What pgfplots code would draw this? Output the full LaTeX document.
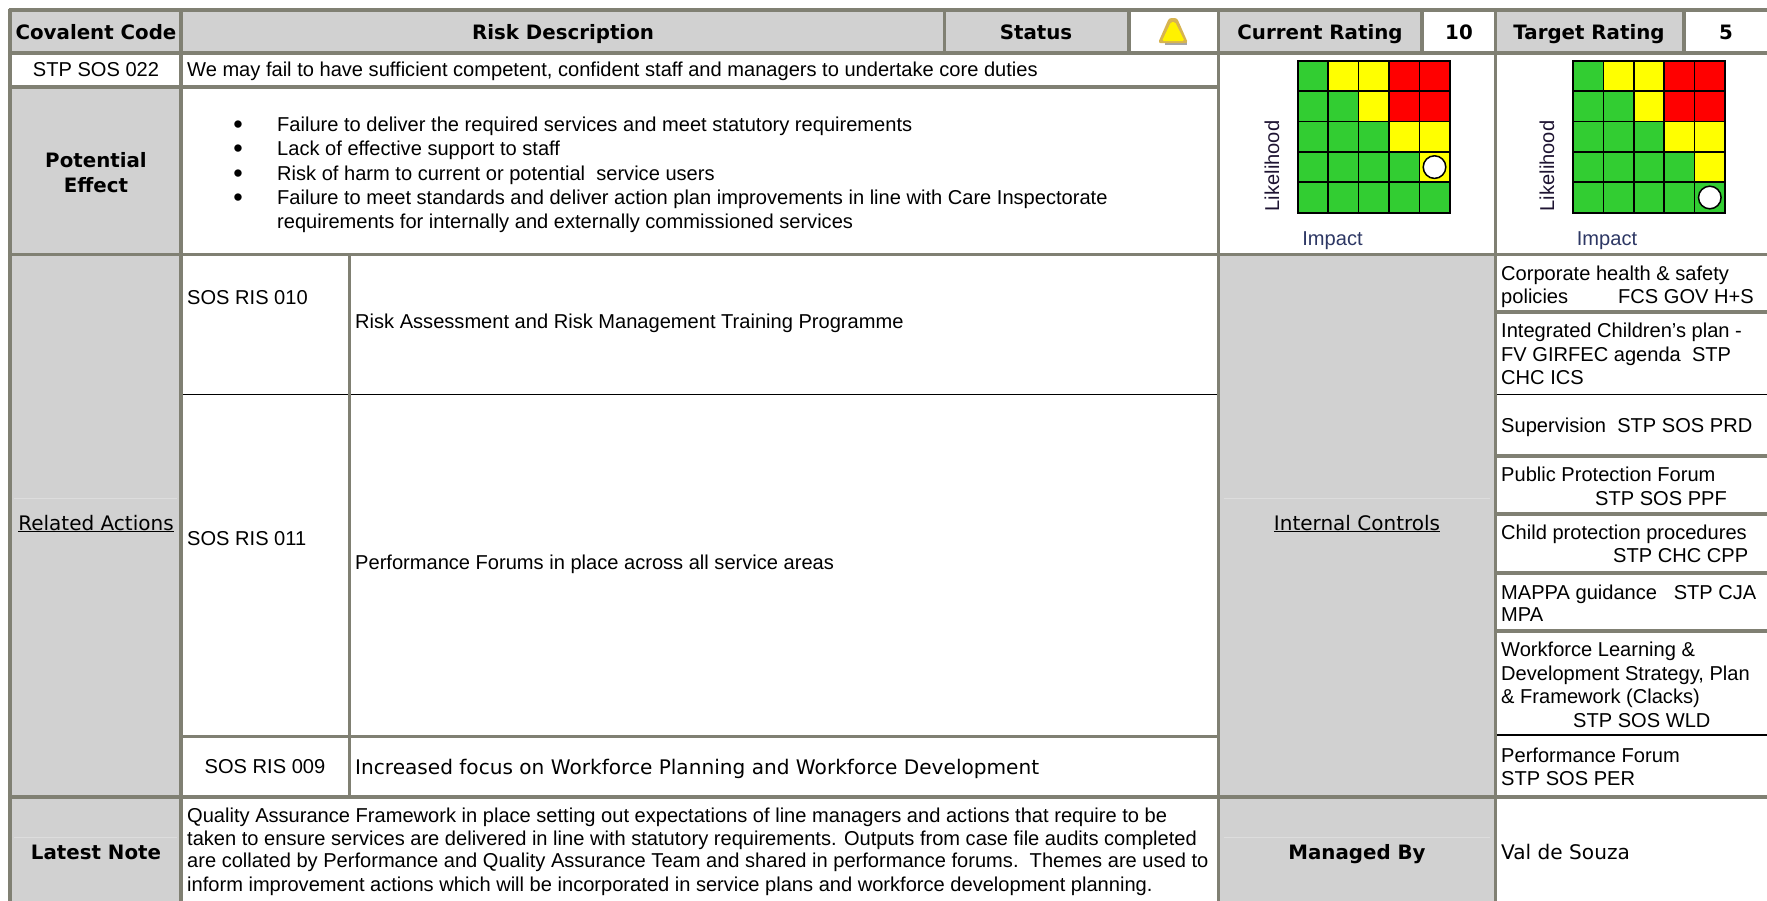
\documentclass[border=0pt]{standalone}
\usepackage{fontspec}
\setmainfont{Liberation Sans}
\newfontfamily\vd{DejaVu Sans}
\usepackage{pgfplots}
\pgfplotsset{compat=1.18}
\definecolor{gl}{RGB}{128,128,115}
\definecolor{gf}{RGB}{209,209,209}
\definecolor{icE}{RGB}{215,180,80}
\definecolor{lk}{RGB}{30,20,50}
\definecolor{im}{RGB}{45,55,100}
\pgfplotstableread{
x y m
0 0 0
1 0 0
2 0 0
3 0 0
4 0 0
0 1 0
1 1 0
2 1 0
3 1 0
4 1 1
0 2 0
1 2 0
2 2 0
3 2 1
4 2 1
0 3 0
1 3 0
2 3 1
3 3 2
4 3 2
0 4 0
1 4 1
2 4 1
3 4 2
4 4 2
}\riskgrid
\newcommand{\fs}{\fontsize{20.08}{24}\selectfont}
\newcommand{\vb}{\vd\bfseries\fontsize{19.8}{24}\selectfont}
\newcommand{\vr}{\vd\fontsize{20.1}{24}\selectfont}
\tikzset{
 L/.style={anchor=base west,inner sep=0pt,font=\fs},
 C/.style={anchor=base,inner sep=0pt,font=\fs},
 H/.style={anchor=base,inner sep=0pt,font=\vb},
 B/.style={anchor=center,inner sep=0pt,font=\fontsize{27}{27}\selectfont},
 thick line/.style={draw=gl,line width=3.2pt},
 thin line/.style={draw=black,line width=1.4pt},
}
\pgfplotsset{riskmatrix/.style={
 scale only axis,width=152pt,height=152pt,at={(#1,-212.7pt)},anchor=south west,
 xmin=-0.5,xmax=4.5,ymin=-0.5,ymax=4.5,
 xtick={0.5,1.5,2.5,3.5},ytick={0.5,1.5,2.5,3.5},
 xticklabels={},yticklabels={},major tick length=0pt,
 grid=major,grid style={black,line width=1.6pt},
 axis line style={black,line width=1.8pt},axis on top,
 colormap={risk}{rgb255(0)=(50,205,50) rgb255(1)=(255,255,0) rgb255(2)=(255,0,0)},
 point meta min=0,point meta max=2,
}}
\begin{document}
\begin{tikzpicture}[x=1pt,y=-1pt]
\useasboundingbox (0,0) rectangle (1767,901);
\begin{axis}[scale only axis,width=1767pt,height=901pt,at={(0pt,-901pt)},anchor=south west,
 xmin=0,xmax=1767,ymin=0,ymax=901,y dir=reverse,axis lines=none,clip=true]
% backgrounds
\fill[gf] (axis cs:10,10) rectangle (axis cs:1129,53);
\fill[gf] (axis cs:1218,10) rectangle (axis cs:1422,53);
\fill[gf] (axis cs:1495,10) rectangle (axis cs:1684,53);
\fill[gf] (axis cs:10,87) rectangle (axis cs:181,901);
\fill[gf] (axis cs:1218,254) rectangle (axis cs:1495,901);
\draw[draw=gf!75!white,line width=.5pt] (axis cs:1224,498) -- (axis cs:1490,498);
\draw[draw=gf!75!white,line width=.5pt] (axis cs:1224,837) -- (axis cs:1490,837);
\draw[draw=gf!75!white,line width=.5pt] (axis cs:14,837) -- (axis cs:177,837);
\draw[draw=gf!75!white,line width=.5pt] (axis cs:14,498) -- (axis cs:177,498);
% thin black
\draw[thin line] (axis cs:181,394.5) -- (axis cs:1218,394.5);
\draw[thin line] (axis cs:1495,394.5) -- (axis cs:1767,394.5);
\draw[thin line] (axis cs:1495,735) -- (axis cs:1767,735);
% thick lines
\draw[thick line] (axis cs:8.5,10) -- (axis cs:1767,10);
\draw[thick line] (axis cs:8.5,53) -- (axis cs:1767,53);
\draw[thick line] (axis cs:10,87) -- (axis cs:1218,87);
\draw[thick line] (axis cs:8.5,254.5) -- (axis cs:1767,254.5);
\draw[thick line] (axis cs:181,736.5) -- (axis cs:1218,736.5);
\draw[thick line] (axis cs:8.5,797) -- (axis cs:1767,797);
\draw[thick line] (axis cs:1495,312) -- (axis cs:1767,312);
\draw[thick line] (axis cs:1495,456) -- (axis cs:1767,456);
\draw[thick line] (axis cs:1495,514) -- (axis cs:1767,514);
\draw[thick line] (axis cs:1495,573) -- (axis cs:1767,573);
\draw[thick line] (axis cs:1495,631) -- (axis cs:1767,631);
\draw[thick line] (axis cs:10,8.5) -- (axis cs:10,901);
\draw[thick line] (axis cs:181,8.5) -- (axis cs:181,901);
\draw[draw=gl,line width=2.4pt] (axis cs:349.5,254) -- (axis cs:349.5,797);
\draw[thick line] (axis cs:944.5,8.5) -- (axis cs:944.5,53);
\draw[thick line] (axis cs:1129,8.5) -- (axis cs:1129,53);
\draw[thick line] (axis cs:1218.5,8.5) -- (axis cs:1218.5,901);
\draw[thick line] (axis cs:1422,8.5) -- (axis cs:1422,53);
\draw[thick line] (axis cs:1495.5,8.5) -- (axis cs:1495.5,901);
\draw[thick line] (axis cs:1684,8.5) -- (axis cs:1684,53);
% header
\node[H] at (axis cs:96,39) {Covalent Code};
\node[H] at (axis cs:563,39) {Risk Description};
\node[H] at (axis cs:1036,39) {Status};
\node[H] at (axis cs:1320,39) {Current Rating};
\node[H] at (axis cs:1459,39) {10};
\node[H] at (axis cs:1589,39) {Target Rating};
\node[H] at (axis cs:1726,39) {5};
% status icon
\fill[gray!70] (axis cs:1165,41) rectangle (axis cs:1187,44.5);
\fill[icE,rounded corners=2.5pt] (axis cs:1158,43) -- (axis cs:1169,18) -- (axis cs:1177,18) -- (axis cs:1188,43) -- cycle;
\fill[yellow,rounded corners=1.5pt] (axis cs:1162,41) -- (axis cs:1171,22) -- (axis cs:1175,22) -- (axis cs:1184.5,41) -- cycle;
% body
\node[C] at (axis cs:96,76) {STP SOS 022};
\node[L] at (axis cs:187,76) {We may fail to have sufficient competent, confident staff and managers to undertake core duties};
\node[H] at (axis cs:96,167) {Potential};
\node[H] at (axis cs:96,192) {Effect};
\node[L] at (axis cs:277,131) {Failure to deliver the required services and meet statutory requirements};
\node[B] at (axis cs:238,127) {\textbullet};
\node[L] at (axis cs:277,155) {Lack of effective support to staff};
\node[B] at (axis cs:238,151) {\textbullet};
\node[L] at (axis cs:277,180.5) {Risk of harm to current or potential\ \ service users};
\node[B] at (axis cs:238,176.5) {\textbullet};
\node[L] at (axis cs:277,204) {Failure to meet standards and deliver action plan improvements in line with Care Inspectorate};
\node[B] at (axis cs:238,200) {\textbullet};
\node[L] at (axis cs:277,228) {requirements for internally and externally commissioned services};
\node[L] at (axis cs:187,304) {SOS RIS 010};
\node[L] at (axis cs:355,328) {Risk Assessment and Risk Management Training Programme};
\node[L] at (axis cs:187,545) {SOS RIS 011};
\node[L] at (axis cs:355,569) {Performance Forums in place across all service areas};
\node[C] at (axis cs:265,773) {SOS RIS 009};
\node[L,font=\vr] at (axis cs:355,774) {Increased focus on Workforce Planning and Workforce Development};
\node[H,font=\vd\fontsize{20}{24}\selectfont] at (axis cs:96,530) {\underline{Related Actions}};
\node[H,font=\vd\fontsize{20}{24}\selectfont] at (axis cs:1357,530) {\underline{Internal Controls}};
\node[H] at (axis cs:96,859) {Latest Note};
\node[H] at (axis cs:1357,859) {Managed By};
\node[L,font=\vr] at (axis cs:1501,859) {Val de Souza};
\node[L] at (axis cs:187,822) {Quality Assurance Framework in place setting out expectations of line managers and actions that require to be};
\node[L] at (axis cs:187,845.5) {taken to ensure services are delivered in line with statutory requirements. Outputs from case file audits completed};
\node[L] at (axis cs:187,867) {are collated by Performance and Quality Assurance Team and shared in performance forums.\ \ Themes are used to};
\node[L] at (axis cs:187,891) {inform improvement actions which will be incorporated in service plans and workforce development planning.};
% right column
\node[L] at (axis cs:1501,280) {Corporate health \& safety};
\node[L] at (axis cs:1501,303) {policies};
\node[L] at (axis cs:1618,303) {FCS GOV H+S};
\node[L] at (axis cs:1501,337) {Integrated Children's plan -};
\node[L] at (axis cs:1501,361) {FV GIRFEC agenda\ \ STP};
\node[L] at (axis cs:1501,384.5) {CHC ICS};
\node[L] at (axis cs:1501,432) {Supervision\ \ STP SOS PRD};
\node[L] at (axis cs:1501,481.5) {Public Protection Forum};
\node[L] at (axis cs:1595,505) {STP SOS PPF};
\node[L] at (axis cs:1501,539) {Child protection procedures};
\node[L] at (axis cs:1613,562.5) {STP CHC CPP};
\node[L] at (axis cs:1501,599) {MAPPA guidance\ \ \ STP CJA};
\node[L] at (axis cs:1501,621) {MPA};
\node[L] at (axis cs:1501,656) {Workforce Learning \&};
\node[L] at (axis cs:1501,680) {Development Strategy, Plan};
\node[L] at (axis cs:1501,703.5) {\& Framework (Clacks)};
\node[L] at (axis cs:1573,727) {STP SOS WLD};
\node[L] at (axis cs:1501,762) {Performance Forum};
\node[L] at (axis cs:1501,785) {STP SOS PER};
% axis captions
\node[C,rotate=90,anchor=base,text=lk] at (axis cs:1279,166) {Likelihood};
\node[C,rotate=90,anchor=base,text=lk] at (axis cs:1554,166) {Likelihood};
\node[C,text=im] at (axis cs:1332.5,245) {Impact};
\node[C,text=im] at (axis cs:1607,245) {Impact};
\end{axis}
\begin{axis}[riskmatrix=1297.7pt]
\addplot[matrix plot*,mesh/cols=5,point meta=explicit] table[x=x,y=y,meta=m] {\riskgrid};
\addplot[only marks,mark=*,mark size=11.3pt,mark options={fill=white,draw=black,line width=1.5pt}] coordinates {(4,1)};
\end{axis}
\begin{axis}[riskmatrix=1573pt]
\addplot[matrix plot*,mesh/cols=5,point meta=explicit] table[x=x,y=y,meta=m] {\riskgrid};
\addplot[only marks,mark=*,mark size=11.3pt,mark options={fill=white,draw=black,line width=1.5pt}] coordinates {(4,0)};
\end{axis}
\end{tikzpicture}
\end{document}
